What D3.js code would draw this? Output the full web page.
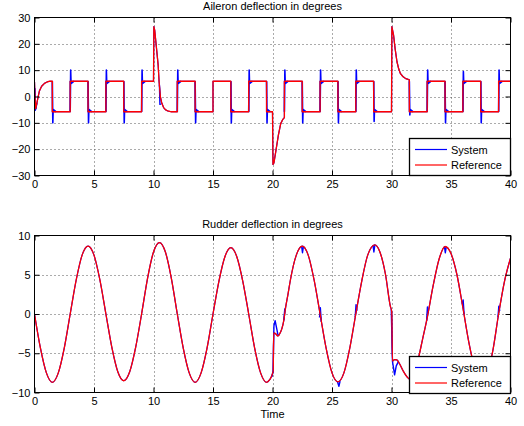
<!DOCTYPE html>
<html><head><meta charset="utf-8">
<script src="https://cdn.jsdelivr.net/npm/d3@7"></script>
<style>
body{margin:0;background:#fff;}
svg text{font-family:"Liberation Sans",Arial,Helvetica,sans-serif;}
</style>
</head><body>
<svg id="chart" width="524" height="426"></svg>
<script>
// ---------------- data ----------------
const xTicks = [0,5,10,15,20,25,30,35,40];
const aileronTicks = [-30,-20,-10,0,10,20,30];
const rudderTicks = [-10,-5,0,5,10];
const seriesNames = ["System","Reference"];
const titles = ["Aileron deflection in degrees","Rudder deflection in degrees"];
const xLabel = "Time";

// Aileron reference [time, degrees]
const aileronReference = [
[0,5.5],[0.04,0],[0.1,-4.6],[0.2,-2.5],[0.3,-0.2],[0.42,2.2],[0.6,3.9],[0.84,5.0],[1.1,5.6],[1.3,5.8],
[1.5,5.8],[1.5,-5.8],[3,-5.8],[3,5.8],[4.5,5.8],[4.5,-5.8],[6,-5.8],[6,5.8],[7.5,5.8],[7.5,-5.8],[9,-5.8],[9,5.8],
[10,5.8],[10.03,26.5],[10.1,25.2],[10.25,18.4],[10.39,12],[10.47,5.6],[10.58,-0.1],[10.7,-2.6],[10.85,-4.2],[11.0,-5.0],[11.2,-5.5],[11.5,-5.8],[12,-5.8],[12,5.8],
[13.5,5.8],[13.5,-5.8],[15,-5.8],[15,5.8],[16.5,5.8],[16.5,-5.8],[18,-5.8],[18,5.8],[19.5,5.8],[19.5,-5.8],
[20,-5.8],[20.04,-25.8],[20.12,-25.2],[20.27,-21],[20.49,-14.8],[20.69,-10.3],[20.85,-8.8],[21,-8.0],[21,5.8],
[22.5,5.8],[22.5,-5.8],[24,-5.8],[24,5.8],[25.5,5.8],[25.5,-5.8],[27,-5.8],[27,5.8],[28.5,5.8],[28.5,-5.8],
[30,-5.8],[30.03,26.5],[30.17,23.4],[30.3,18.3],[30.46,13.2],[30.6,10.6],[30.74,8.8],[30.95,7.6],[31.16,6.9],[31.5,6.3],[31.5,-5.8],
[33,-5.8],[33,5.8],[34.5,5.8],[34.5,-5.8],[36,-5.8],[36,5.8],[37.5,5.8],[37.5,-5.8],[39,-5.8],[39,5.8],[40,5.8]
];
// Aileron system: deviations from the reference
const aileronSystemSegments = [
[[0,-4.5],[0.04,3],[0.07,-5.2],[0.12,-4.6],[0.2,-2.5]],
[[10.5,4.5],[10.54,-3],[10.62,-2.8]]
];
const aileronSpikeTimes = [1.5,3,4.5,6,7.5,9,12,13.5,16.5,18,19.5,21,22.5,24,25.5,27,28.5,31.5,33,34.5,36,37.5,39];
const aileronSpikePeaks = [-10,10,-10,10,-10,10,10,-10,-10,10,-10,10,-10,10,-10,10,-9.5,-7,10,-10,9.5,-10,10];

// Rudder reference [time, degrees]
const rudderReference = [
[0,0],[0.5,-4.35],[1,-7.5],[1.5,-8.7],[2,-7.5],[2.5,-4.35],[3,0],
[3.5,4.3],[4,7.5],[4.5,8.65],[5,7.5],[5.5,4.3],[6,0],
[6.5,-4.25],[7,-7.35],[7.5,-8.5],[8,-7.35],[8.5,-4.25],[9,0],
[9.5,4.55],[10,7.9],[10.5,9.1],[11,7.9],[11.5,4.55],[12,0],
[12.5,-4.35],[13,-7.5],[13.5,-8.7],[14,-7.5],[14.5,-4.35],[15,0],
[15.5,4.2],[16,7.3],[16.5,8.45],[17,7.3],[17.5,4.2],[18,0],
[18.5,-4.35],[19,-7.5],[19.5,-8.7],[19.75,-8.4],[20,-7.6],[20.06,-7.2],[20.1,-2.4],[20.25,-2.5],[20.46,-2.8],[20.65,-2.4],[20.8,-1.8],[20.95,-0.8],[21.1,0.8],[21.3,2.5],
[21.5,4.3],[22,7.5],[22.5,8.65],[23,7.5],[23.5,4.3],[24,0],
[24.5,-4.3],[25,-7.5],[25.5,-8.65],[26,-7.5],[26.5,-4.3],[27,0],
[27.5,4.2],[28,7.5],[28.6,8.8],[29,8.0],[29.5,5.0],[29.9,1.0],[30.02,0.3],[30.08,-6.0],[30.25,-5.8],[30.45,-5.85],[30.7,-6.4],
[31.0,-7.3],[31.3,-8.0],[31.55,-8.3],[31.8,-7.9],[32.05,-6.9],[32.3,-5.4],[32.6,-3.3],[33,-0.5],
[33.5,3.6],[34,7.0],[34.5,8.6],[35,7.7],[35.5,5.0],[36,0.8],
[36.5,-3.6],[37,-6.9],[37.5,-8.6],[38,-7.8],[38.5,-4.8],[39,0],[39.5,4.2],[40,7.1]
];
// Rudder system: deviations from the reference
const rudderSystemSegments = [
[[19.95,-8.0],[20.05,-7.3],[20.12,-1.5],[20.22,-0.85],[20.32,-1.6],[20.45,-2.6],[20.55,-2.75]],
[[20.95,-0.8],[21.03,0.6],[21.1,0.8]],
[[22.45,8.6],[22.52,7.8],[22.6,8.6]],
[[23.95,-0.45],[24.02,0.8],[24.1,-1.0]],
[[25.45,-8.6],[25.58,-9.2],[25.68,-8.55]],
[[26.95,-0.4],[27.02,1.2],[27.1,0.4]],
[[28.45,8.7],[28.52,7.9],[28.6,8.8]],
[[29.98,0.6],[30.08,-6.0],[30.26,-7.75],[30.4,-6.6],[30.6,-6.0]],
[[32.95,-0.9],[33.02,0.9],[33.1,0.1]],
[[34.45,8.6],[34.52,7.8],[34.6,8.55]],
[[35.95,1.3],[36.02,1.8],[36.1,0]],
[[37.45,-8.6],[37.52,-9.2],[37.6,-8.6]],
[[38.95,-0.4],[39.02,1.0],[39.1,0.4]]
];

// ---------------- drawing ----------------
const BLUE = "#0000ff", RED = "#ff0000";
const svg = d3.select("#chart");
const x = d3.scaleLinear().domain([0,40]).range([34.5,510.5]);

function refAfter(data, t){
  let v = data[0][1];
  for (const p of data){ if (p[0] <= t) v = p[1]; }
  return v;
}

function panel(opts){
  const {y, yTicks, top, bottom, id} = opts;
  const g = svg.append("g");
  const left = x.range()[0], right = x.range()[1];
  svg.append("clipPath").attr("id", id).append("rect")
    .attr("x", left).attr("y", top).attr("width", right-left).attr("height", bottom-top);
  const grid = g.append("g").attr("stroke","#444").attr("stroke-width",0.9).attr("stroke-dasharray","1,3");
  grid.selectAll(".gx").data(xTicks.slice(1,-1)).join("line")
    .attr("x1", d=>Math.round(x(d))+0.5).attr("x2", d=>Math.round(x(d))+0.5)
    .attr("y1", top).attr("y2", bottom);
  grid.selectAll(".gy").data(yTicks.slice(1,-1)).join("line")
    .attr("y1", d=>Math.round(y(d))+0.5).attr("y2", d=>Math.round(y(d))+0.5)
    .attr("x1", left).attr("x2", right);
  return {g, left, right};
}

function axes(g, y, yTicks, top, bottom){
  const left = x.range()[0], right = x.range()[1];
  const fmt = d3.format("d");
  const ax = g.append("g").attr("transform", `translate(0,${bottom})`)
    .call(d3.axisBottom(x).tickValues(xTicks).tickSize(-5).tickPadding(5).tickFormat(fmt));
  const axT = g.append("g").attr("transform", `translate(0,${top})`)
    .call(d3.axisTop(x).tickValues(xTicks).tickSize(-5).tickFormat(""));
  const ay = g.append("g").attr("transform", `translate(${left},0)`)
    .call(d3.axisLeft(y).tickValues(yTicks).tickSize(-5).tickPadding(4).tickFormat(fmt));
  const ayR = g.append("g").attr("transform", `translate(${right},0)`)
    .call(d3.axisRight(y).tickValues(yTicks).tickSize(-5).tickFormat(""));
  [ax, axT, ay, ayR].forEach(a=>{
    a.select(".domain").remove();
    a.attr("font-family", null).attr("font-size", null);
    a.selectAll("line").attr("stroke","#000");
    a.selectAll("text").attr("fill","#000").style("font-size","11px");
  });
  g.append("rect").attr("x",left).attr("y",top).attr("width",right-left).attr("height",bottom-top)
    .attr("fill","none").attr("stroke","#000").attr("stroke-width",1);
}

function legend(g, boxTop, right){
  const lg = g.append("g");
  lg.append("rect").attr("x",409.5).attr("y",boxTop).attr("width",right-409.5).attr("height",37)
    .attr("fill","#fff").attr("stroke","#000").attr("stroke-width",1.3);
  const cols = [BLUE, RED];
  seriesNames.forEach((n,i)=>{
    const yy = boxTop + 11 + i*15.5;
    lg.append("line").attr("x1",415).attr("x2",447).attr("y1",yy).attr("y2",yy)
      .attr("stroke",cols[i]).attr("stroke-width",1.2);
    lg.append("text").attr("x",451).attr("y",yy+4).attr("fill","#000").style("font-size","11px").text(n);
  });
}

// ---- Aileron panel ----
const yA = d3.scaleLinear().domain([-30,30]).range([175.5,17.5]);
const pA = panel({y:yA, yTicks:aileronTicks, top:17.5, bottom:175.5, id:"clipA"});
const lineA = d3.line().x(d=>x(d[0])).y(d=>yA(d[1]));
const plotA = pA.g.append("g").attr("clip-path","url(#clipA)").attr("fill","none").attr("stroke-width",1.2).attr("stroke-linejoin","round");
plotA.append("path").datum(aileronReference).attr("d",lineA).attr("stroke",BLUE).attr("stroke-width",1.2);
aileronSystemSegments.forEach(s=>plotA.append("path").datum(s).attr("d",lineA).attr("stroke",BLUE).attr("stroke-width",1.4));
aileronSpikeTimes.forEach((t,i)=>{
  const lvl = refAfter(aileronReference, t);
  const pk = aileronSpikePeaks[i];
  const pts = [[t,-lvl],[t+0.04,pk],[t+0.07,lvl*0.85],[t+0.2,lvl*0.92],[t+0.32,lvl]];
  plotA.append("path").datum(pts).attr("d",lineA).attr("stroke",BLUE).attr("stroke-width",1.6);
});
plotA.append("path").datum(aileronReference).attr("d",lineA).attr("stroke",RED).attr("stroke-width",1.3);
axes(pA.g, yA, aileronTicks, 17.5, 175.5);
legend(pA.g, 138.5, 510.5);
svg.append("text").attr("x",272.5).attr("y",9.5).attr("text-anchor","middle").style("font-size","11px").text(titles[0]);

// ---- Rudder panel ----
const yR = d3.scaleLinear().domain([-10,10]).range([392.5,235.5]);
const pR = panel({y:yR, yTicks:rudderTicks, top:235.5, bottom:392.5, id:"clipR"});
const lineR = d3.line().x(d=>x(d[0])).y(d=>yR(d[1])).curve(d3.curveMonotoneX);
const lineRlin = d3.line().x(d=>x(d[0])).y(d=>yR(d[1]));
const plotR = pR.g.append("g").attr("clip-path","url(#clipR)").attr("fill","none").attr("stroke-width",1.2).attr("stroke-linejoin","round");
plotR.append("path").datum(rudderReference).attr("d",lineR).attr("stroke",BLUE).attr("stroke-width",1.2);
rudderSystemSegments.forEach(s=>plotR.append("path").datum(s).attr("d",lineRlin).attr("stroke",BLUE).attr("stroke-width",1.4));
plotR.append("path").datum(rudderReference).attr("d",lineR).attr("stroke",RED).attr("stroke-width",1.3);
axes(pR.g, yR, rudderTicks, 235.5, 392.5);
legend(pR.g, 356.5, 510.5);
svg.append("text").attr("x",272.5).attr("y",227.5).attr("text-anchor","middle").style("font-size","11px").text(titles[1]);
svg.append("text").attr("x",272.5).attr("y",418).attr("text-anchor","middle").style("font-size","11px").text(xLabel);
</script>
</body></html>
